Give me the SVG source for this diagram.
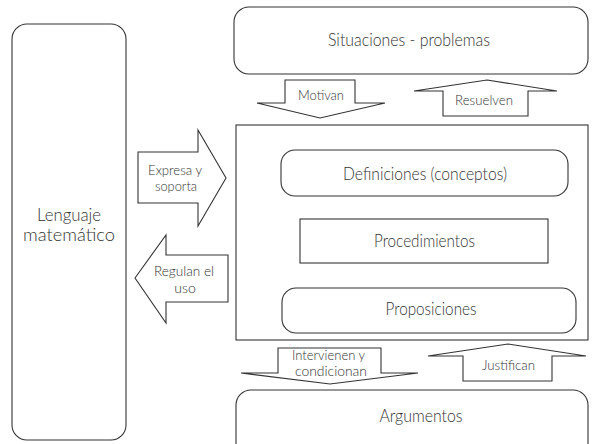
<svg xmlns="http://www.w3.org/2000/svg" width="595" height="444" viewBox="0 0 595 444">
<style>
.n{fill:#fff;stroke:#333;stroke-width:1.1}
.a{fill:#fff;stroke:#333;stroke-width:1.1;stroke-linejoin:miter}
text{font-family:Lato,"Open Sans","DejaVu Sans",sans-serif;font-weight:300;fill:#333;text-anchor:middle}
.t{font-size:17px}
.s{font-size:14px}
</style>
<rect width="595" height="444" fill="#fff"/>
<g id="lenguaje">
<rect class="n" x="12" y="24" width="114" height="416" rx="15"/>
<text class="t" x="69" y="221" textLength="64" lengthAdjust="spacingAndGlyphs">Lenguaje</text>
<text class="t" x="69" y="241" textLength="92" lengthAdjust="spacingAndGlyphs">matemático</text>
</g>
<g id="situaciones">
<rect class="n" x="234" y="7" width="354" height="67" rx="15"/>
<text class="t" x="409" y="46" textLength="162" lengthAdjust="spacingAndGlyphs">Situaciones - problemas</text>
</g>
<g id="sistema">
<rect class="n" x="236" y="125" width="352" height="215"/>
</g>
<g id="definiciones">
<rect class="n" x="281" y="150" width="287" height="46" rx="14"/>
<text class="t" x="425" y="180" textLength="164" lengthAdjust="spacingAndGlyphs">Definiciones (conceptos)</text>
</g>
<g id="procedimientos">
<rect class="n" x="300" y="219" width="248" height="44"/>
<text class="t" x="424.5" y="247" textLength="101" lengthAdjust="spacingAndGlyphs">Procedimientos</text>
</g>
<g id="proposiciones">
<rect class="n" x="282" y="288" width="294" height="45" rx="14"/>
<text class="t" x="431" y="315" textLength="91" lengthAdjust="spacingAndGlyphs">Proposiciones</text>
</g>
<g id="argumentos">
<rect class="n" x="236" y="390" width="352" height="70" rx="15"/>
<text class="t" x="421" y="422" textLength="83" lengthAdjust="spacingAndGlyphs">Argumentos</text>
</g>
<g id="connectors">
<g id="motivan">
<polygon class="a" points="285,80 355,80 355,103 385,103 320,118 257,103 285,103"/>
<text class="s" x="321" y="100" textLength="46" lengthAdjust="spacingAndGlyphs">Motivan</text>
</g>
<g id="resuelven">
<polygon class="a" points="487,80 557,91 528,91 528,116 443,116 443,91 414,91"/>
<text class="s" x="484" y="105" textLength="58" lengthAdjust="spacingAndGlyphs">Resuelven</text>
</g>
<g id="expresa">
<polygon class="a" points="138,152 198,152 198,130 226,178 198,226 198,203 138,203"/>
<text class="s" x="175" y="175" textLength="54" lengthAdjust="spacingAndGlyphs">Expresa y</text>
<text class="s" x="176" y="191" textLength="42" lengthAdjust="spacingAndGlyphs">soporta</text>
</g>
<g id="regulan">
<polygon class="a" points="135,278 166,235 166,255 228,255 228,302 166,302 166,323"/>
<text class="s" x="184" y="276" textLength="60" lengthAdjust="spacingAndGlyphs">Regulan el</text>
<text class="s" x="185" y="293">uso</text>
</g>
<g id="intervienen">
<polygon class="a" points="278,348 381,348 381,373 418,373 330,384 241,373 278,373"/>
<text class="s" x="328.5" y="360" textLength="73" lengthAdjust="spacingAndGlyphs">Intervienen y</text>
<text class="s" x="331" y="376" textLength="72" lengthAdjust="spacingAndGlyphs">condicionan</text>
</g>
<g id="justifican">
<polygon class="a" points="508,344 586,356 552,356 552,381 463,381 463,356 428,356"/>
<text class="s" x="508.5" y="370" textLength="53" lengthAdjust="spacingAndGlyphs">Justifican</text>
</g>
</g>
</svg>
